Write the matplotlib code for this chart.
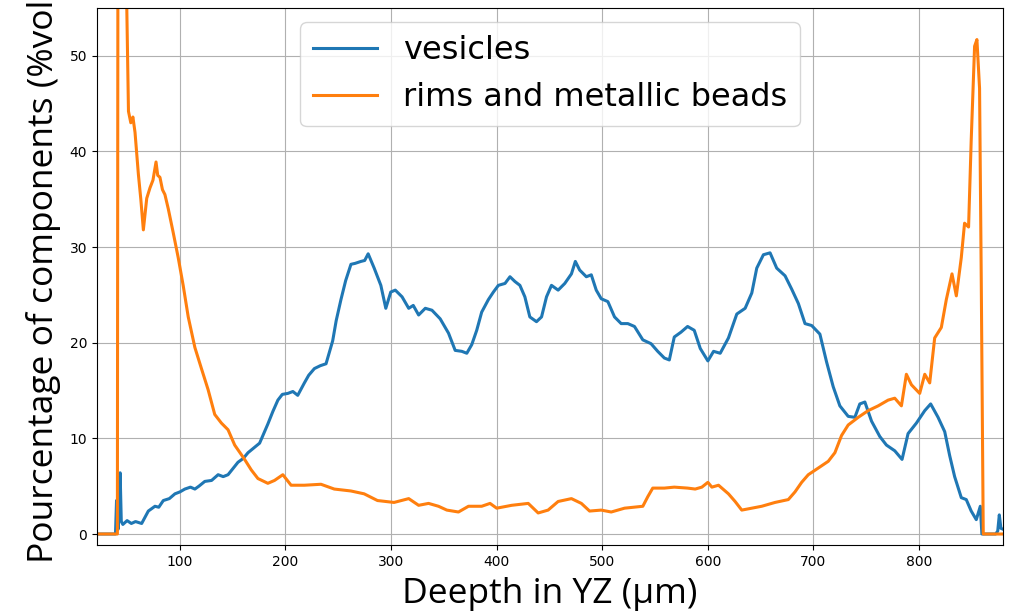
import matplotlib
matplotlib.use("Agg")
import matplotlib.pyplot as plt

# ---- data ----
ves_x = [21.5, 39.0, 40.0, 41.5, 42.5, 43.4, 44.5, 46, 50, 54, 58, 63.8, 70.1, 76.4, 80, 84.3, 90, 95.3,
         100, 104.7, 110, 114.2, 118, 123.6, 130, 136.2, 141, 145.6, 150, 155, 160, 164.5, 170, 175.5,
         183.3, 188, 192.8, 197, 202.2, 207, 211.6, 217.9, 222, 227.4, 233, 238.4, 244.7, 248,
         252.5, 257, 262, 266, 271.4, 275, 278.3, 284, 290.3, 295, 299.7, 304, 310.4, 316.7, 321, 326.1,
         332.4, 338.7, 346.5, 354.4, 360.7, 367, 371.7, 376.4, 381.1, 385.8, 392.1, 396.9, 401.6,
         407.9, 412.6, 417.3, 422, 426.7, 431.4, 437.7, 442.5, 447.2, 451.9, 458.2, 464.5, 470.8,
         474.5, 478.6, 484.9, 489.6, 494.3, 499, 505.3, 511.6, 517.9, 524.2, 530.5, 538.4, 546.2,
         552.5, 558.8, 563.5, 568.2, 574.5, 580.8, 587.1, 592.8, 600, 605.4, 611.7, 619.5, 627.4,
         635.3, 641.6, 646.3, 652.6, 658.9, 665.2, 673.1, 679.4, 685.7, 692, 698.3, 706.1, 712.4,
         718.7, 725, 732.9, 739.2, 743.9, 748.7, 755, 762.8, 769.1, 777, 783.9, 789.6, 797.5,
         805.4, 811, 818, 824.3, 829, 833.7, 840, 844.7, 849.4, 854.2, 858, 859.5, 872.5, 874.5,
         876, 877.5, 879.5]
ves_y = [0.0, 0.0, 3.5, 0.5, 3.0, 6.4, 1.3, 1.0, 1.4, 1.1, 1.3, 1.1, 2.4, 2.9, 2.8, 3.5, 3.7, 4.2,
         4.4, 4.7, 4.9, 4.7, 5.0, 5.5, 5.6, 6.2, 6.0, 6.2, 6.8, 7.5, 7.9, 8.5, 9.0, 9.5,
         11.5, 12.8, 14.0, 14.6, 14.7, 14.9, 14.5, 15.8, 16.6, 17.3, 17.6, 17.8, 20.2, 22.3,
         24.5, 26.5, 28.2, 28.3, 28.5, 28.6, 29.3, 27.8, 26.0, 23.6, 25.3, 25.5, 24.8, 23.6, 23.9, 22.9,
         23.6, 23.4, 22.5, 21.0, 19.2, 19.1, 18.9, 19.8, 21.3, 23.2, 24.5, 25.3, 26.0,
         26.2, 26.9, 26.4, 26.0, 24.8, 22.7, 22.2, 22.7, 24.8, 26.0, 25.5, 26.2, 27.2,
         28.5, 27.6, 26.9, 27.1, 25.5, 24.6, 24.3, 22.7, 22.0, 22.0, 21.7, 20.3, 19.9,
         19.1, 18.4, 18.2, 20.6, 21.1, 21.7, 21.3, 19.4, 18.1, 19.1, 18.9, 20.5, 23.0,
         23.6, 25.2, 27.8, 29.2, 29.4, 27.8, 27.0, 25.6, 24.1, 22.0, 21.8, 20.9, 18.0,
         15.4, 13.4, 12.3, 12.2, 13.6, 13.8, 11.8, 10.2, 9.3, 8.7, 7.8, 10.5, 11.6,
         12.9, 13.6, 12.2, 10.7, 8.2, 6.0, 3.8, 3.6, 2.4, 1.5, 2.9, 0.0, 0.0, 0.3,
         2.0, 0.6, 0.5]

rim_x = [21.5, 40.8, 41.3, 45.0, 49.7, 51.3, 53.5, 55.5, 57.5, 60.7, 63.0, 65.4, 68.6, 71.7, 74.5,
         77.4, 79.0, 81.1, 83.5, 85.8, 89.0, 93.7, 98.4, 103.1, 107.9, 114.2, 120.4, 126.7, 133.0,
         139.3, 145.6, 151.9, 161.3, 167.6, 173.9, 183.3, 189.6, 197.5, 205.3, 217.9, 233.6,
         246.2, 261.9, 274.5, 287.1, 302.8, 316.7, 326.1, 335.5, 344.9, 352.8, 363.8, 373.3,
         385.8, 393.7, 400.0, 414.2, 429.9, 439.3, 448.7, 458.2, 470.8, 480.2, 488.0, 499.0,
         508.5, 521.1, 538.4, 543.1, 547.8, 558.8, 568.2, 580.8, 588.0, 594.3, 600.0, 603.8,
         610.1, 619.5, 625.8, 632.1, 641.6, 651.0, 663.6, 676.2, 682.5, 688.8, 695.1, 704.6,
         714.0, 720.3, 726.6, 732.9, 742.4, 751.8, 761.3, 770.7, 777.0, 783.3, 788.0, 792.8,
         800.6, 805.4, 810.1, 814.8, 821.1, 825.8, 831.2, 835.3, 840.0, 843.1, 846.9, 849.4,
         852.6, 854.8, 857.3, 858.9, 860.8, 879.5]
rim_y = [0.0, 0.0, 60.0, 75.0, 55.1, 44.2, 43.0, 43.6, 42.0, 37.6, 35.0, 31.8, 35.1, 36.2, 37.0,
         38.9, 37.5, 37.3, 36.0, 35.5, 34.0, 31.5, 28.9, 26.0, 22.7, 19.5, 17.3, 15.1, 12.5,
         11.6, 10.9, 9.3, 7.8, 6.7, 5.8, 5.3, 5.6, 6.2, 5.1, 5.1, 5.2,
         4.7, 4.5, 4.2, 3.5, 3.3, 3.7, 3.0, 3.2, 2.9, 2.5, 2.3, 2.9,
         2.9, 3.2, 2.7, 3.0, 3.2, 2.2, 2.5, 3.4, 3.7, 3.2, 2.4, 2.5,
         2.3, 2.7, 2.9, 3.9, 4.8, 4.8, 4.9, 4.8, 4.7, 4.9, 5.4, 4.9,
         5.1, 4.2, 3.4, 2.5, 2.7, 2.9, 3.3, 3.6, 4.4, 5.4, 6.2, 6.9,
         7.6, 8.5, 10.3, 11.4, 12.2, 12.9, 13.4, 14.0, 14.2, 13.4, 16.7, 15.6,
         14.7, 16.7, 15.8, 20.5, 21.6, 24.5, 27.2, 24.9, 28.9, 32.5, 32.1, 41.2,
         51.0, 51.7, 46.6, 26.7, 0.0, 0.0]

x_ticks = [100, 200, 300, 400, 500, 600, 700, 800]
y_ticks = [0, 10, 20, 30, 40, 50]

fig = plt.figure(figsize=(10.17, 6.12), dpi=100)
ax = fig.add_axes([97 / 1017, 1 - 545 / 612, (1003 - 97) / 1017, (545 - 8) / 612])

ax.plot(ves_x, ves_y, color="#1f77b4", lw=2.2, label="vesicles")
ax.plot(rim_x, rim_y, color="#ff7f0e", lw=2.2, label="rims and metallic beads")

ax.set_xlim(21.5, 879.5)
ax.set_ylim(-1.15, 55)
ax.set_xticks(x_ticks)
ax.set_yticks(y_ticks)
ax.tick_params(labelsize=10)
ax.grid(True, color="#b0b0b0", lw=0.8)

ax.set_xlabel("Deepth in YZ (µm)", fontsize=25.5, family="Open Sans", labelpad=6)
ax.set_ylabel("Pourcentage of components (%vol)", fontsize=25.5, family="Open Sans", labelpad=6)

ax.legend(loc="upper center", fontsize=23, borderaxespad=0.45)

fig.savefig("out.png", dpi=100)
